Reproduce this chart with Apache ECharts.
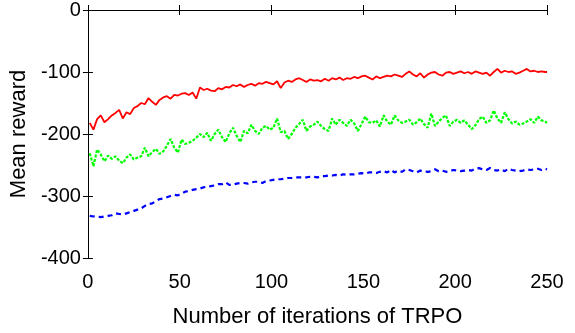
<!DOCTYPE html>
<html>
<head>
<meta charset="utf-8">
<script src="https://cdn.jsdelivr.net/npm/echarts@6/dist/echarts.min.js"></script>
<style>
html,body{margin:0;padding:0;background:#fff;}
#chart{width:575px;height:333px;}
</style>
</head>
<body>
<div id="chart"></div>
<script>
// Iterations sampled every 2 (odd iterations) plus the final one
var iterations = [];
for (var k = 1; k <= 249; k += 2) iterations.push(k);
iterations.push(250);

var xTicks = [0, 50, 100, 150, 200, 250];
var yTicks = [-400, -300, -200, -100, 0];

var redSeries = [
-182,-193,-176,-170,-181,-176,-170,-166,-161,-175,
-165,-168,-158,-155,-150,-152,-142,-148,-153,-145,
-141,-139,-143,-137,-138,-135,-134,-137,-133,-143,
-125,-129,-127,-130,-131,-126,-128,-124,-125,-121,
-123,-120,-124,-121,-119,-122,-118,-119,-116,-118,
-120,-115,-126,-117,-114,-116,-112,-110,-113,-116,
-112,-114,-113,-115,-111,-114,-110,-112,-109,-113,
-110,-111,-108,-110,-107,-106,-109,-112,-107,-110,
-108,-106,-107,-104,-106,-108,-103,-99,-104,-107,
-102,-109,-104,-101,-100,-104,-106,-101,-100,-103,
-101,-99,-102,-100,-103,-99,-101,-103,-101,-106,
-100,-95,-101,-98,-100,-99,-103,-101,-98,-95,
-99,-98,-100,-99,-100,-100
];

var greenSeries = [
-231,-252,-225,-233,-244,-235,-240,-236,-243,-247,
-238,-233,-241,-238,-236,-222,-236,-229,-224,-232,
-228,-219,-208,-222,-230,-209,-216,-214,-211,-206,
-200,-205,-198,-211,-200,-193,-205,-213,-199,-190,
-203,-213,-195,-199,-185,-195,-200,-190,-187,-193,
-190,-175,-197,-195,-208,-200,-190,-184,-177,-195,
-188,-185,-180,-187,-192,-195,-175,-185,-177,-182,
-187,-177,-183,-195,-184,-172,-181,-182,-178,-188,
-170,-180,-185,-170,-178,-182,-180,-177,-185,-181,
-175,-184,-190,-167,-187,-180,-174,-170,-187,-180,
-177,-182,-178,-185,-192,-186,-176,-172,-182,-178,
-162,-175,-182,-165,-176,-183,-180,-185,-183,-180,
-176,-182,-172,-178,-180,-182
];

var blueSeries = [
-332,-333,-333,-334,-333,-332,-331,-328,-329,-330,
-328,-326,-324,-322,-320,-316,-313,-312,-308,-305,
-304,-302,-300,-298,-299,-296,-293,-292,-290,-289,
-288,-286,-285,-284,-283,-281,-281,-278,-282,-282,
-280,-279,-279,-280,-278,-277,-277,-279,-276,-275,
-274,-273,-273,-272,-271,-271,-270,-270,-270,-270,
-269,-269,-270,-268,-268,-267,-267,-266,-267,-265,
-266,-265,-265,-264,-263,-264,-262,-262,-263,-261,
-260,-262,-258,-262,-259,-261,-257,-258,-260,-262,
-259,-260,-261,-260,-257,-260,-259,-261,-260,-258,
-259,-260,-259,-258,-259,-256,-255,-257,-258,-255,
-258,-259,-257,-260,-256,-258,-259,-260,-259,-257,
-258,-257,-256,-258,-256,-257
];

function pairs(vals) {
  var out = [];
  for (var i = 0; i < vals.length; i++) out.push([iterations[i], vals[i]]);
  return out;
}

var FONT = '"Liberation Sans", Arial, Helvetica, sans-serif';
var chart = echarts.init(document.getElementById('chart'), null, {renderer: 'canvas'});

var xMin = xTicks[0], xMax = xTicks[xTicks.length - 1], xStep = xTicks[1] - xTicks[0];
var yMin = yTicks[0], yMax = yTicks[yTicks.length - 1], yStep = yTicks[1] - yTicks[0];

var axisLine = {show: true, lineStyle: {color: '#000', width: 1}};
var axisTick = {show: true, inside: true, length: 5, lineStyle: {color: '#000', width: 1}};

chart.setOption({
  animation: false,
  backgroundColor: '#fff',
  grid: {left: 86, right: 28, top: 8, bottom: 65, containLabel: false},
  xAxis: [{
    type: 'value', min: xMin, max: xMax, interval: xStep,
    name: 'Number of iterations of TRPO', nameLocation: 'middle', nameGap: 48,
    nameTextStyle: {fontFamily: FONT, fontSize: 22, color: '#000'},
    axisLine: axisLine, axisTick: axisTick, splitLine: {show: false},
    axisLabel: {fontFamily: FONT, fontSize: 20, color: '#000', margin: 14}
  }, {
    type: 'value', min: xMin, max: xMax, interval: xStep, position: 'top',
    axisLine: axisLine, axisTick: axisTick, splitLine: {show: false},
    axisLabel: {show: false}
  }],
  yAxis: [{
    type: 'value', min: yMin, max: yMax, interval: yStep,
    name: 'Mean reward', nameLocation: 'middle', nameGap: 39,
    nameTextStyle: {fontFamily: FONT, fontSize: 22, color: '#000'},
    axisLine: axisLine, axisTick: axisTick, splitLine: {show: false},
    axisLabel: {fontFamily: FONT, fontSize: 20, color: '#000', margin: 7}
  }, {
    type: 'value', min: yMin, max: yMax, interval: yStep, position: 'right',
    axisLine: axisLine, axisTick: axisTick, splitLine: {show: false},
    axisLabel: {show: false}
  }],
  series: [{
    name: 'red', type: 'line', data: pairs(redSeries), symbol: 'none',
    lineStyle: {color: '#ff0000', width: 1.8, type: 'solid'}
  }, {
    name: 'green', type: 'line', data: pairs(greenSeries), symbol: 'none',
    lineStyle: {color: '#00ff00', width: 2.2, type: [3, 1.5]}
  }, {
    name: 'blue', type: 'line', data: pairs(blueSeries), symbol: 'none',
    lineStyle: {color: '#0000ff', width: 2.2, type: [5, 4]}
  }]
});
</script>
</body>
</html>
